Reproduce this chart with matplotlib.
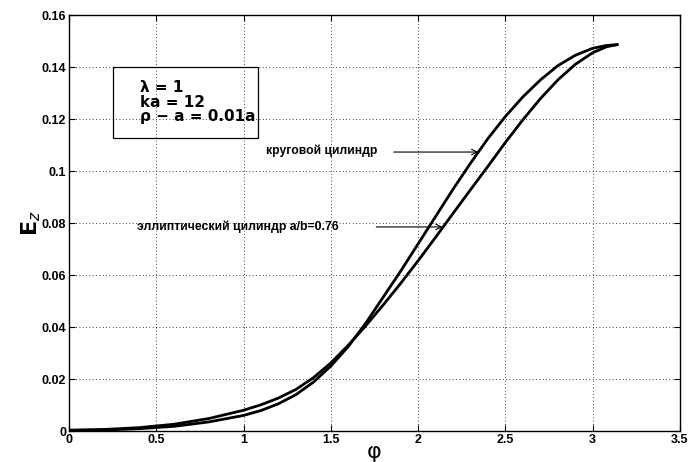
import numpy as np
import matplotlib
matplotlib.use('Agg')
from matplotlib import pyplot as plt
from matplotlib.patches import Rectangle

# curves (phi, Ez)
phi_circ = [0, 0.2, 0.4, 0.6, 0.8, 1.0, 1.1, 1.2, 1.3, 1.4, 1.5, 1.6, 1.7, 1.8,
            1.9, 2.0, 2.1, 2.2, 2.3, 2.4, 2.5, 2.6, 2.7, 2.8, 2.9, 3.0, 3.08, 3.14]
ez_circ = [0.0003, 0.0004, 0.0009, 0.0018, 0.0035, 0.0060, 0.0079, 0.0105, 0.0140,
           0.0188, 0.0250, 0.0325, 0.0415, 0.0515, 0.0615, 0.0720, 0.0825, 0.0930,
           0.1030, 0.1125, 0.1210, 0.1285, 0.1350, 0.1405, 0.1445, 0.1472, 0.1483,
           0.1486]

phi_ell = [0, 0.2, 0.4, 0.6, 0.8, 1.0, 1.1, 1.2, 1.3, 1.4, 1.5, 1.6, 1.7, 1.8,
           1.9, 2.0, 2.1, 2.2, 2.3, 2.4, 2.5, 2.6, 2.7, 2.8, 2.9, 3.0, 3.08, 3.14]
ez_ell = [0.0003, 0.0006, 0.0013, 0.0026, 0.0048, 0.0080, 0.0101, 0.0127, 0.0160,
          0.0205, 0.0262, 0.0330, 0.0405, 0.0485, 0.0568, 0.0655, 0.0745, 0.0837,
          0.0928, 0.1018, 0.1110, 0.1197, 0.1278, 0.1350, 0.1410, 0.1455, 0.1478,
          0.1486]

xticks = [0, 0.5, 1, 1.5, 2, 2.5, 3, 3.5]
xticklabels = ['0', '0.5', '1', '1.5', '2', '2.5', '3', '3.5']
yticks = [0, 0.02, 0.04, 0.06, 0.08, 0.1, 0.12, 0.14, 0.16]
yticklabels = ['0', '0.02', '0.04', '0.06', '0.08', '0.1', '0.12', '0.14', '0.16']

label_circ = 'круговой цилиндр'
label_ell = 'эллиптический цилиндр a/b=0.76'
params = 'λ = 1\nka = 12\nρ − a = 0.01a'

# where the arrows touch the curves
tip_circ = (2.345, 0.1073)
tip_ell = (2.14, 0.0785)

plt.rcParams['font.family'] = ['Liberation Sans', 'DejaVu Sans']

fig = plt.figure(figsize=(6.88, 4.62), dpi=100)
ax = fig.add_axes([0.1003, 0.067, 0.888, 0.9005])

ax.plot(phi_circ, ez_circ, color='black', lw=2.0, solid_joinstyle='round')
ax.plot(phi_ell, ez_ell, color='black', lw=2.0, solid_joinstyle='round')

ax.set_xlim(0, 3.5)
ax.set_ylim(0, 0.16)
ax.set_xticks(xticks)
ax.set_xticklabels(xticklabels, fontsize=9, fontweight='bold')
ax.set_yticks(yticks)
ax.set_yticklabels(yticklabels, fontsize=9, fontweight='bold')
ax.tick_params(direction='in', top=True, right=True, length=4, width=0.8, pad=2)
ax.grid(True, color='black', linestyle=(0, (1, 3)), lw=0.6)
for s in ax.spines.values():
    s.set_linewidth(1.0)

ax.set_xlabel('φ', fontsize=16, labelpad=-3, family=['DejaVu Sans'])
ax.set_ylabel(r'$\mathbf{E}_z$', fontsize=16, labelpad=-1)

# parameter box
ax.add_patch(Rectangle((0.072, 0.704), 0.237, 0.171, transform=ax.transAxes,
                       fill=False, edgecolor='black', lw=0.9, zorder=5))
ax.text(0.117, 0.79, params, transform=ax.transAxes, fontsize=11,
        fontweight='bold', va='center', ha='left', linespacing=0.95,
        family=['DejaVu Sans'])

# annotations with arrows
ax.annotate('', xy=tip_circ, xytext=(1.86, tip_circ[1]),
            arrowprops=dict(arrowstyle='->', color='black', lw=0.8,
                            shrinkA=0, shrinkB=0))
ax.text(1.13, tip_circ[1] + 0.0005, label_circ, fontsize=8.7, fontweight='bold',
        va='center', ha='left')

ax.annotate('', xy=tip_ell, xytext=(1.76, tip_ell[1]),
            arrowprops=dict(arrowstyle='->', color='black', lw=0.8,
                            shrinkA=0, shrinkB=0))
ax.text(0.39, tip_ell[1], label_ell, fontsize=8.8, fontweight='bold',
        va='center', ha='left')

fig.savefig('out.png', dpi=100)
